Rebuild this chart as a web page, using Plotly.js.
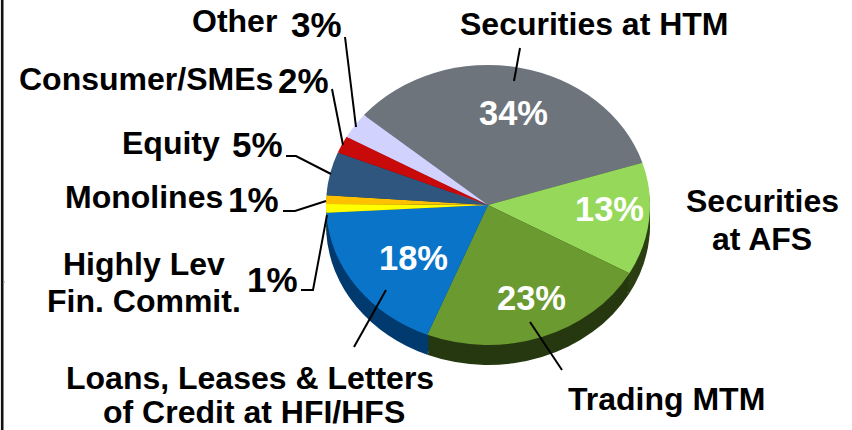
<!DOCTYPE html>
<html><head><meta charset="utf-8">
<script src="https://cdn.plot.ly/plotly-3.0.1.min.js"></script>
<style>html,body{margin:0;padding:0;background:#fff}#c{width:852px;height:430px}</style>
</head><body><div id="c"></div>
<script>
const categories=["Securities at HTM","Securities at AFS","Trading MTM","Loans, Leases & Letters of Credit at HFI/HFS","Highly Lev Fin. Commit.","Monolines","Equity","Consumer/SMEs","Other"];
const shares=[34,13,23,18,1,1,5,2,3];
const topColors=["#6d747c","#96d95a","#6b9a30","#0a75c8","#ffff00","#ffc000","#2f567f","#c80a0a","#d2d2ff"];
const sideColors=["#3a3e42","#2c3f14","#26380f","#003a6e","#807f00","#806000","#17304a","#600000","#8080a0"];
const W=852,H=430,CX=488,CY=205,RX=162,RY=140,START=-50;
const depthSteps=[20,16,12,8,4];
const px=x=>x/W, py=y=>1-y/H;
const family="'Liberation Sans',Arial,sans-serif";
const bold=s=>"<b>"+s+"</b>";
const labels=[
 ["Other",234,21],
 ["Consumer/SMEs",146,79],
 ["Equity",171,143],
 ["Monolines",144,197],
 ["Highly Lev",144,264],["Fin. Commit.",144,301],
 ["Loans, Leases & Letters",250,378],["of Credit at HFI/HFS",254,412],
 ["Securities at HTM",594,24],
 ["Securities",762,201],["at AFS",762,239],
 ["Trading MTM",666,399]
];
const outerPct=[["3%",316,25],["2%",303,80],["5%",257,145],["1%",254,199],["1%",272,279]];
const inner=[["34%",513,113],["13%",609,209],["23%",531,298],["18%",413,258]];
const leaders=[
 [[345,37],[356,127]],
 [[332,89],[343,145]],
 [[286,156],[296,156],[331,174]],
 [[283,211],[295,211],[326,201]],
 [[301,290],[313,290],[327,215]],
 [[354,347],[386,290]],
 [[530,322],[562,370]],
 [[520,48],[514,81]]
];
const dom={x:[px(CX-RX),px(CX+RX)],y:[py(CY+RX),py(CY-RX)]};
const pie=(colors)=>({type:"pie",values:shares,labels:categories,sort:false,direction:"clockwise",rotation:START,
 marker:{colors:colors,line:{width:0}},textinfo:"none",hoverinfo:"label+percent",showlegend:false,domain:dom});
const traces=depthSteps.map(()=>pie(sideColors)).concat([pie(topColors)]);
const note=(l,size,color)=>({text:bold(l[0]),x:px(l[1]),y:py(l[2]),xref:"paper",yref:"paper",showarrow:false,font:{family:family,size:size,color:color},xanchor:"center",yanchor:"middle"});
const annotations=labels.map(l=>note(l,32,"#000")).concat(outerPct.map(l=>note(l,35,"#000"))).concat(inner.map(l=>note(l,34.5,"#fff")));
const shapes=leaders.map(p=>({type:"path",xref:"paper",yref:"paper",layer:"above",line:{color:"#000",width:2},
 path:"M"+p.map(q=>px(q[0])+" "+py(q[1])).join("L")}));
shapes.push({type:"line",xref:"paper",yref:"paper",x0:px(2.2),x1:px(2.2),y0:0,y1:1,line:{color:"#111",width:2.6}});
shapes.push({type:"line",xref:"paper",yref:"paper",x0:px(3),x1:px(5),y0:py(282),y1:py(282),line:{color:"#999",width:1}});
Plotly.newPlot("c",traces,{width:W,height:H,margin:{l:0,r:0,t:0,b:0,pad:0},paper_bgcolor:"#fff",plot_bgcolor:"#fff",
 annotations:annotations,shapes:shapes},{displayModeBar:false,staticPlot:true}).then(()=>{
 const k=RY/RX, offs=depthSteps.concat([0]);
 document.querySelectorAll(".pielayer .trace").forEach((g,i)=>{
  g.setAttribute("transform","translate(0,"+(CY+offs[i])+") scale(1,"+k+") translate(0,"+(-CY)+")");
 });
});
</script></body></html>
